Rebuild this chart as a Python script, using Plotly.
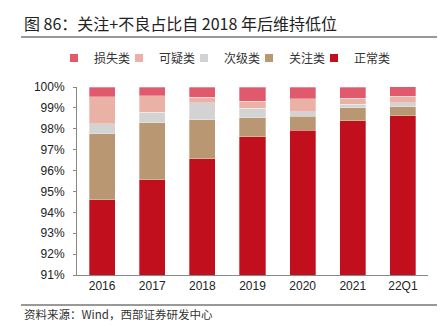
import plotly.graph_objects as go

categories = ["2016", "2017", "2018", "2019", "2020", "2021", "22Q1"]
normal = [94.61, 95.55, 96.57, 97.62, 97.94, 98.39, 98.63]     # 正常类
special = [3.16, 2.73, 1.87, 0.91, 0.66, 0.62, 0.43]           # 关注类
substandard = [0.48, 0.51, 0.81, 0.45, 0.22, 0.16, 0.19]       # 次级类
doubtful = [1.29, 0.80, 0.26, 0.35, 0.61, 0.29, 0.31]          # 可疑类
loss = [0.46, 0.41, 0.49, 0.67, 0.57, 0.54, 0.49]              # 损失类

W, H = 444, 326
L, R, T, B = 77, 428, 87, 275

def px(x):
    return (x - L) / (R - L)

def py(y):
    return (B - y) / (B - T)

series = [
    ("正常类", normal, "#C20F1E"),
    ("关注类", special, "#B99773"),
    ("次级类", substandard, "#D3D3D3"),
    ("可疑类", doubtful, "#EAB1A6"),
    ("损失类", loss, "#E0596C"),
]

fig = go.Figure()
# blank trailing legend slot so the last label is not clipped
fig.add_trace(go.Scatter(
    x=[None], y=[None], mode="markers", name=" ",
    marker=dict(size=1, color="rgba(0,0,0,0)"),
))
for name, vals, color in series:
    fig.add_trace(go.Bar(
        x=categories, y=vals, name=name, legendgroup=name, showlegend=False,
        marker=dict(color=color, line=dict(color="rgba(255,255,255,0.6)", width=0.5)),
        width=0.52,
    ))
    # small square legend key for each series
    fig.add_trace(go.Scatter(
        x=[None], y=[None], mode="markers", name=name, legendgroup=name,
        marker=dict(symbol="square", size=8, color=color),
    ))

font_cn = "Noto Sans CJK SC"
fig.update_layout(
    barmode="stack",
    width=W, height=H,
    margin=dict(l=L, r=W - R, t=T, b=H - B, pad=0),
    paper_bgcolor="white", plot_bgcolor="white",
    font=dict(family="Liberation Sans, Arial, sans-serif", size=12, color="#222"),
    showlegend=True,
    legend=dict(
        orientation="h", traceorder="reversed",
        x=px(64), xanchor="left", y=py(58), yanchor="middle",
        font=dict(family=font_cn, size=12, color="#333"),
        entrywidth=20, entrywidthmode="pixels",
        itemwidth=30, bgcolor="rgba(0,0,0,0)",
    ),
    xaxis=dict(
        type="category", categoryorder="array", categoryarray=categories,
        range=[-0.5, len(categories) - 0.5],
        showgrid=False, showline=True, linecolor="#888", linewidth=1,
        ticks="", tickfont=dict(size=12, color="#222"),
    ),
    yaxis=dict(
        range=[91, 100], dtick=1, ticksuffix="%",
        showgrid=False, showline=True, linecolor="#888", linewidth=1,
        ticks="outside", ticklen=3, tickcolor="#888", ticklabelstandoff=6,
        tickfont=dict(size=12, color="#222"), zeroline=False,
    ),
    shapes=[
        dict(type="line", xref="paper", yref="paper", x0=px(21), x1=px(437),
             y0=py(37), y1=py(37), line=dict(color="#333", width=1)),
        dict(type="line", xref="paper", yref="paper", x0=px(21), x1=px(437),
             y0=py(305), y1=py(305), line=dict(color="#333", width=1)),
    ],
    annotations=[
        dict(text="图 86：关注+不良占比自 2018 年后维持低位", xref="paper", yref="paper",
             x=px(22), y=py(23), xanchor="left", yanchor="middle", showarrow=False,
             font=dict(family=font_cn, size=16, color="#222")),
        dict(text="资料来源：Wind，西部证券研发中心", xref="paper", yref="paper",
             x=px(22), y=py(314), xanchor="left", yanchor="middle", showarrow=False,
             font=dict(family=font_cn, size=11.5, color="#333")),
    ],
)

fig.write_html("out.html")
